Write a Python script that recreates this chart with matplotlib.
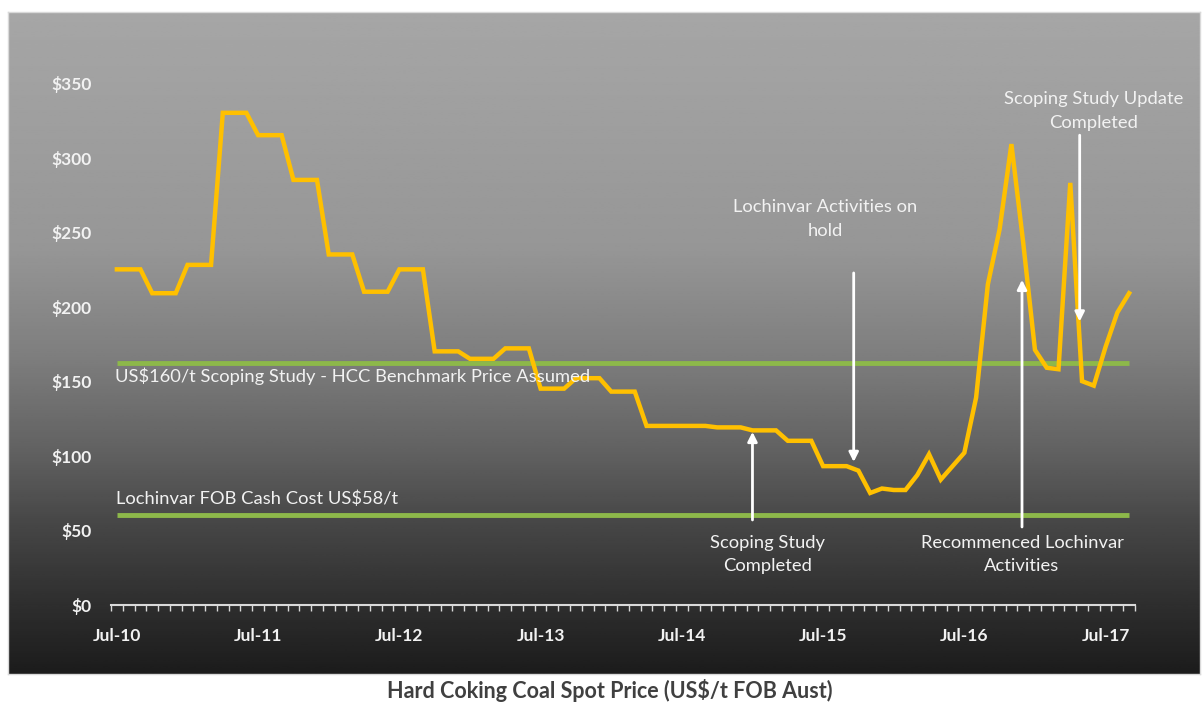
import matplotlib
matplotlib.use("Agg")
import matplotlib.pyplot as plt
import numpy as np

# monthly spot price, Jul-10 .. Sep-17 (US$/t)
prices = [225, 225, 225, 209, 209, 209, 228, 228, 228, 330, 330, 330,
          315, 315, 315, 285, 285, 285, 235, 235, 235, 210, 210, 210,
          225, 225, 225, 170, 170, 170, 165, 165, 165, 172, 172, 172,
          145, 145, 145, 152, 152, 152, 143, 143, 143, 120, 120, 120,
          120, 120, 120, 119, 119, 119, 117, 117, 117, 110, 110, 110,
          93, 93, 93, 90, 75, 78, 77, 77, 87, 101, 84, 93,
          102, 139, 215, 252, 309, 243, 171, 159, 158, 283, 150, 147,
          173, 196, 209]
benchmark = 162
cash_cost = 60
tick_labels = ["Jul-10", "Jul-11", "Jul-12", "Jul-13", "Jul-14", "Jul-15", "Jul-16", "Jul-17"]
y_ticks = [0, 50, 100, 150, 200, 250, 300, 350]

W, H = 1202, 702
fig = plt.figure(figsize=(W / 100, H / 100), dpi=100)
fig.patch.set_facecolor("white")
font = "Lato"

# gradient panel
bg = fig.add_axes([8 / W, (H - 674) / H, 1192 / W, 662 / H])
rows = np.linspace(12, 674, 300)
shade = np.interp(rows, [12, 250, 360, 450, 520, 600, 674], [166, 150, 125, 98, 72, 48, 28]) / 255
grad = np.repeat(shade[:, None], 2, axis=1)
bg.imshow(grad, cmap="gray", vmin=0, vmax=1, aspect="auto", extent=[0, 1, 0, 1])
bg.set_xticks([])
bg.set_yticks([])
for s in bg.spines.values():
    s.set_color("#D9D9D9")
    s.set_linewidth(1)

ax = fig.add_axes([111 / W, (H - 604.8) / H, 1024 / W, 521.8 / H])
ax.patch.set_alpha(0)
x = np.arange(len(prices))
ax.set_xlim(-0.5, len(prices) - 0.5)
ax.set_ylim(0, 350)

ax.plot(x, [benchmark] * len(x), color="#8DB84A", lw=3.5, solid_capstyle="butt", zorder=2)
ax.plot(x, [cash_cost] * len(x), color="#8DB84A", lw=3.5, solid_capstyle="butt", zorder=2)
ax.plot(x, prices, color="#FFC000", lw=3.2, solid_joinstyle="miter", zorder=3)

for s in ["top", "right", "left"]:
    ax.spines[s].set_visible(False)
ax.spines["bottom"].set_color("#D9D9D9")
ax.spines["bottom"].set_linewidth(1.5)

ax.set_xticks(np.arange(-0.5, len(prices), 1), minor=True)
ax.tick_params(axis="x", which="minor", length=4, width=1, color="#D9D9D9", direction="out")
ax.set_xticks(np.arange(0, len(prices), 12))
ax.set_xticklabels(tick_labels)
ax.tick_params(axis="x", which="major", length=0, pad=17)
ax.set_yticks(y_ticks)
ax.set_yticklabels(["$%d" % v for v in y_ticks])
ax.tick_params(axis="y", length=0, pad=14)
for lab in ax.get_xticklabels() + ax.get_yticklabels():
    lab.set_fontfamily(font)
    lab.set_fontweight("bold")
    lab.set_fontsize(12.5)
    lab.set_color("#F2F2F2")

txt = dict(color="#F2F2F2", fontsize=13.2, family=font, zorder=4)
ax.text(-0.2, 153.6, "US$160/t Scoping Study - HCC Benchmark Price Assumed", ha="left", va="center", **txt)
ax.text(-0.1, 71, "Lochinvar FOB Cash Cost US$58/t", ha="left", va="center", **txt)

arrow = dict(arrowstyle="-|>", color="white", lw=2, mutation_scale=14, shrinkA=0, shrinkB=0)
ls = 1.6
ax.text(60.2, 259, "Lochinvar Activities on\nhold", ha="center", va="center", linespacing=ls, **txt)
ax.annotate("", xy=(62.6, 95.8), xytext=(62.6, 357.6 - 135), arrowprops=arrow)
ax.text(55.3, 33.8, "Scoping Study\nCompleted", ha="center", va="center", linespacing=ls, **txt)
ax.annotate("", xy=(54.0, 116), xytext=(54.0, 56.9), arrowprops=arrow)
ax.text(76.9, 33.8, "Recommenced Lochinvar\nActivities", ha="center", va="center", linespacing=ls, **txt)
ax.annotate("", xy=(76.9, 218), xytext=(76.9, 52.2), arrowprops=arrow)
ax.text(83.0, 331, "Scoping Study Update\nCompleted", ha="center", va="center", linespacing=ls, **txt)
ax.annotate("", xy=(81.8, 190), xytext=(81.8, 315), arrowprops=arrow)

fig.text(610 / W, 1 - 690 / H, "Hard Coking Coal Spot Price (US$/t FOB Aust)", ha="center", va="center",
         fontsize=15.5, fontweight="bold", color="#404040", family=font)

fig.savefig("out.png", dpi=100)
